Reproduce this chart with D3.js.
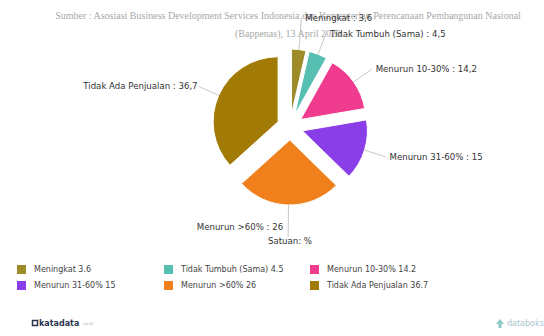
<!DOCTYPE html>
<html>
<head>
<meta charset="utf-8">
<script src="https://cdn.jsdelivr.net/npm/d3@7"></script>
<style>
  html, body { margin: 0; padding: 0; background: #ffffff; }
  svg { display: block; }
</style>
</head>
<body>
<script>
// ---- data ----
const categories = ["Meningkat", "Tidak Tumbuh (Sama)", "Menurun 10-30%", "Menurun 31-60%", "Menurun >60%", "Tidak Ada Penjualan"];
const values = [3.6, 4.5, 14.2, 15, 26, 36.7];
const colors = ["#9e8c2b", "#56bfb2", "#ef3c8e", "#8a3ee8", "#f0801c", "#a27a06"];
const subtitleLines = [
  "Sumber : Asosiasi Business Development Services Indonesia dan Kementerian Perencanaan Pembangunan Nasional",
  "(Bappenas), 13 April 2020"
];
const unitLabel = "Satuan: %";

// ---- layout ----
const W = 544, H = 336;
const cx = 290, cy = 127, R = 65, explode = 13, labelR = 100;

const svg = d3.select("body").append("svg").attr("width", W).attr("height", H);

// subtitle
const sub = svg.append("g").attr("font-family", "Liberation Serif, serif").attr("font-size", 10).attr("fill", "#a8a8a8").attr("text-anchor", "middle");
subtitleLines.forEach((t, i) => sub.append("text").attr("x", 288).attr("y", 18.5 + i * 18).text(t));

const pie = d3.pie().sort(null).value(d => d).startAngle(0).endAngle(2 * Math.PI);
const arcs = pie(values);
const arc = d3.arc().innerRadius(0).outerRadius(R);
const fmtComma = v => String(v).replace(".", ",");

const gPie = svg.append("g").attr("transform", `translate(${cx},${cy})`);
arcs.forEach((a, i) => {
  const m = (a.startAngle + a.endAngle) / 2;
  const dx = Math.sin(m) * explode, dy = -Math.cos(m) * explode;
  gPie.append("path")
    .attr("d", arc(a))
    .attr("transform", `translate(${dx},${dy})`)
    .attr("fill", colors[i])
    .attr("stroke", "#ffffff")
    .attr("stroke-width", 1);
});

// labels with connectors
const labels = arcs.map((a, i) => {
  const m = (a.startAngle + a.endAngle) / 2;
  const ux = Math.sin(m), uy = -Math.cos(m);
  return {
    i, ux, uy,
    sx: cx + ux * (explode + R), sy: cy + uy * (explode + R),
    ex: cx + ux * labelR, ey: cy + uy * labelR,
    right: ux >= 0,
    text: categories[i] + " : " + fmtComma(values[i])
  };
});
// overlap avoidance on right side: push the upper label upward
const rightLabels = labels.filter(l => l.right).sort((a, b) => b.ey - a.ey);
for (let k = 1; k < rightLabels.length; k++) {
  if (rightLabels[k - 1].ey - rightLabels[k].ey < 16) rightLabels[k].ey = rightLabels[k - 1].ey - 16;
}

const gLab = svg.append("g").attr("font-family", "DejaVu Sans, sans-serif").attr("font-size", 8.6).attr("fill", "#333");
labels.forEach(l => {
  const bottom = l.uy > 0.95;
  if (bottom) {
    gLab.append("line").attr("x1", l.sx).attr("y1", l.sy).attr("x2", l.ex).attr("y2", l.ey + 10)
      .attr("stroke", "#c8c8c8").attr("stroke-width", 1);
    gLab.append("text").attr("x", l.ex - 5).attr("y", l.ey).attr("dy", "0.35em")
      .attr("text-anchor", "end").text(l.text);
  } else {
    const mx = cx + l.ux * (explode + R + 8), my = cy + l.uy * (explode + R + 8);
    gLab.append("path")
      .attr("d", `M${l.sx},${l.sy}L${mx},${my}L${l.ex},${l.ey}`)
      .attr("fill", "none").attr("stroke", "#c8c8c8").attr("stroke-width", 1);
    gLab.append("text").attr("x", l.right ? l.ex + 4 : l.ex - 1).attr("y", l.ey).attr("dy", "0.35em")
      .attr("text-anchor", l.right ? "start" : "end").text(l.text);
  }
});
gLab.append("text").attr("x", cx).attr("y", 241).attr("dy", "0.35em").attr("text-anchor", "middle").text(unitLabel);

// legend
const legendCols = [17, 164, 310], legendRows = [265, 281];
const gLeg = svg.append("g").attr("font-family", "DejaVu Sans, sans-serif").attr("font-size", 8).attr("fill", "#444");
categories.forEach((c, i) => {
  const x = legendCols[i % 3], y = legendRows[Math.floor(i / 3)];
  gLeg.append("rect").attr("x", x).attr("y", y).attr("width", 9).attr("height", 9).attr("fill", colors[i]);
  gLeg.append("text").attr("x", x + 17).attr("y", y + 4.5).attr("dy", "0.35em").text(c + " " + values[i]);
});

// footer
const gF = svg.append("g");
gF.append("rect").attr("x", 32.5).attr("y", 320.5).attr("width", 5).attr("height", 5).attr("fill", "none").attr("stroke", "#2b3350").attr("stroke-width", 1.5);
gF.append("text").attr("x", 39).attr("y", 323).attr("dy", "0.35em").attr("font-family", "DejaVu Sans, sans-serif").attr("font-size", 8).attr("font-weight", "bold").attr("fill", "#2b3350").text("katadata");
gF.append("text").attr("x", 82).attr("y", 324).attr("dy", "0.35em").attr("font-family", "DejaVu Sans, sans-serif").attr("font-size", 4).attr("fill", "#b0b0b0").text(".co.id");
gF.append("path").attr("d", "M500,319 L504,324 L501.5,324 L501.5,328 L498.5,328 L498.5,324 L496,324 Z").attr("fill", "#8fc9c9");
gF.append("text").attr("x", 507).attr("y", 323).attr("dy", "0.35em").attr("font-family", "DejaVu Sans, sans-serif").attr("font-size", 8).attr("fill", "#a9c4cc").text("databoks");
</script>
</body>
</html>
